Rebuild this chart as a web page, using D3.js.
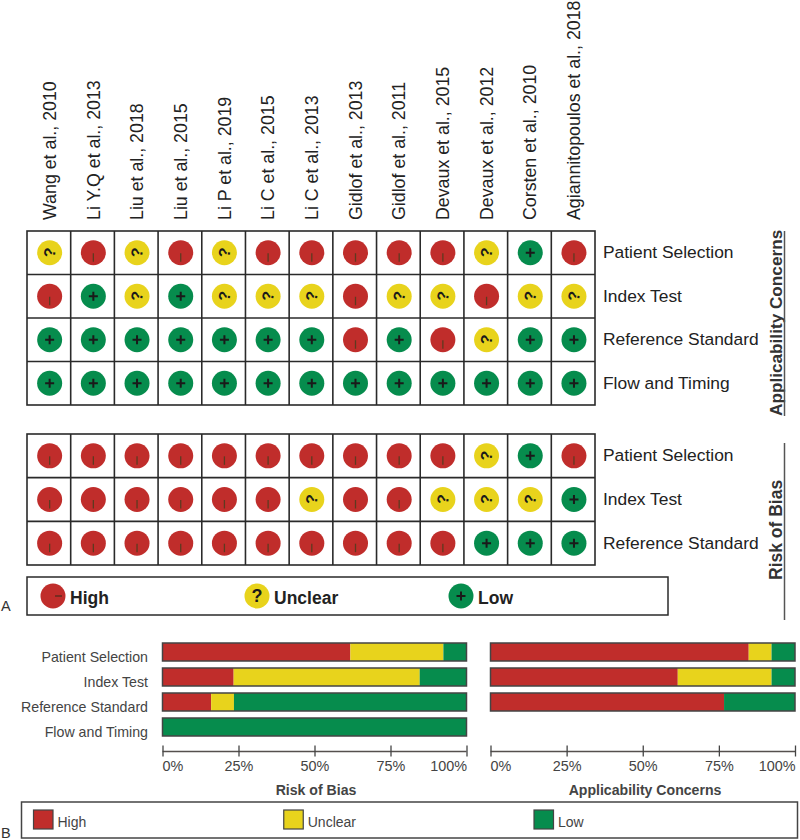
<!DOCTYPE html>
<html><head><meta charset="utf-8">
<script src="https://cdn.jsdelivr.net/npm/d3@7"></script>
<style>html,body{margin:0;padding:0;background:#fff}svg{display:block}text{font-family:"Liberation Sans",Arial,sans-serif}</style>
</head><body><svg id="c" width="800" height="840"></svg>
<script>
const studies = ["Wang et al., 2010","Li Y.Q et al., 2013","Liu et al., 2018","Liu et al., 2015","Li P et al., 2019","Li C et al., 2015","Li C et al., 2013","Gidlof et al., 2013","Gidlof et al., 2011","Devaux et al., 2015","Devaux et al., 2012","Corsten et al., 2010","Agiannitopoulos et al., 2018"];
const applicabilityRows = ["Patient Selection","Index Test","Reference Standard","Flow and Timing"];
const biasRows = ["Patient Selection","Index Test","Reference Standard"];
const applicabilityCells = ["?-?-?-----?+-","-+?+???-??-??","+++++++-+-?++","+++++++++++++"];
const biasCells = ["----------?+-","------?--???+","----------+++"];
const levels = ["High","Unclear","Low"];
const barRows = ["Patient Selection","Index Test","Reference Standard","Flow and Timing"];
const barBias = [[61.8,30.6,7.6],[23.4,61.2,15.4],[16,7.5,76.5],[0,0,100]];
const barApplicability = [[84.8,7.5,7.7],[61.5,30.8,7.7],[76.7,0,23.3]];
const percentTicks = [0,25,50,75,100];
const colors = {High:"#c02d2b",Unclear:"#e8d31c",Low:"#068c4d"};
const symbolLevel = {"-":"High","?":"Unclear","+":"Low"};

const svg = d3.select("#c");
const x = d3.scaleBand().domain(studies).range([27,595]);
const ink = "#2a2a2a";

function glyph(g, sym, big){
  if(sym==="+"){
    g.append("path").attr("d","M-4.5,0H4.5M0,-4.5V4.5").attr("stroke","#1a1a1a").attr("stroke-width",2).attr("fill","none");
  } else if(sym==="-"){
    if(big) g.append("path").attr("d","M2,0H9").attr("stroke","#4a2a1a").attr("stroke-width",1.2);
    else g.append("path").attr("d","M0,0.5V9").attr("stroke","#5e3a20").attr("stroke-width",1.3);
  } else {
    const t = g.append("text").text("?").attr("text-anchor","middle").attr("font-weight","700").attr("fill","#1a1a1a");
    if(big) t.attr("font-size",18).attr("y",6);
    else t.attr("font-size",16).attr("transform","rotate(-82) translate(0,5.5)");
  }
}

function matrix(rows, cells, top, bottom){
  const y = d3.scaleBand().domain(rows).range([top,bottom]);
  const g = svg.append("g");
  g.append("rect").attr("x",27).attr("y",top).attr("width",568).attr("height",bottom-top).attr("fill","#fff").attr("stroke",ink).attr("stroke-width",1.6);
  g.selectAll(".v").data(studies.slice(1)).join("line").attr("x1",d=>x(d)).attr("x2",d=>x(d)).attr("y1",top).attr("y2",bottom).attr("stroke",ink).attr("stroke-width",1.6);
  g.selectAll(".h").data(rows.slice(1)).join("line").attr("x1",27).attr("x2",595).attr("y1",d=>y(d)).attr("y2",d=>y(d)).attr("stroke",ink).attr("stroke-width",1.6);
  rows.forEach((r,i)=>{
    studies.forEach((s,j)=>{
      const sym = cells[i][j];
      const c = g.append("g").attr("transform",`translate(${x(s)+x.bandwidth()/2+0.8},${y(r)+y.bandwidth()/2})`);
      c.append("circle").attr("r",12.5).attr("fill",colors[symbolLevel[sym]]);
      glyph(c,sym,false);
    });
    g.append("text").attr("x",603).attr("y",y(r)+y.bandwidth()/2+5.5).attr("font-size",17.4).attr("fill","#222").text(r);
  });
}
matrix(applicabilityRows,applicabilityCells,231,405);
matrix(biasRows,biasCells,434,565);

svg.append("g").selectAll("text").data(studies).join("text")
  .attr("transform",d=>`translate(${x(d)+x.bandwidth()/2+7},220) rotate(-90)`)
  .attr("font-size",17.8).attr("fill","#222").text(d=>d);

// side titles
svg.append("text").attr("transform","translate(782,416) rotate(-90)").attr("font-size",17.2).attr("font-weight","700").attr("fill","#333").text("Applicability Concerns");
svg.append("line").attr("x1",784.5).attr("x2",784.5).attr("y1",231).attr("y2",416).attr("stroke","#555").attr("stroke-width",1.5);
svg.append("text").attr("transform","translate(782,580) rotate(-90)").attr("font-size",17.5).attr("font-weight","700").attr("fill","#333").text("Risk of Bias");
svg.append("line").attr("x1",784.5).attr("x2",784.5).attr("y1",443).attr("y2",620).attr("stroke","#555").attr("stroke-width",1.5);

// legend A
svg.append("rect").attr("x",27).attr("y",577).attr("width",641).attr("height",38).attr("fill","#fff").attr("stroke",ink).attr("stroke-width",1.5);
const legendAx = d3.scalePoint().domain(levels).range([53,461]);
const legendSym = {High:"-",Unclear:"?",Low:"+"};
levels.forEach(l=>{
  const c = svg.append("g").attr("transform",`translate(${legendAx(l)},596)`);
  c.append("circle").attr("r",12.5).attr("fill",colors[l]);
  glyph(c,legendSym[l],true);
  svg.append("text").attr("x",legendAx(l)+17).attr("y",604).attr("font-size",17.5).attr("font-weight","700").attr("fill","#222").text(l);
});
svg.append("text").attr("x",1).attr("y",611).attr("font-size",14.5).attr("fill","#333").text("A");
svg.append("text").attr("x",1).attr("y",838).attr("font-size",14.5).attr("fill","#333").text("B");

// stacked bars
const barY = d3.scaleBand().domain(barRows).range([643,736]).paddingInner(0.28).paddingOuter(0);
function stacked(data, rows, x0, x1, title){
  const s = d3.scaleLinear().domain([0,100]).range([x0,x1]);
  const g = svg.append("g");
  rows.forEach((r,i)=>{
    const tab = {}; levels.forEach((l,k)=>tab[l]=data[i][k]);
    const series = d3.stack().keys(levels)([tab]);
    series.forEach(sr=>{
      const a=sr[0][0], b=sr[0][1];
      if(b-a<=0) return;
      g.append("rect").attr("x",s(a)).attr("y",barY(r)).attr("width",s(b)-s(a)).attr("height",barY.bandwidth()).attr("fill",colors[sr.key]);
    });
    g.append("rect").attr("x",s(0)).attr("y",barY(r)).attr("width",s(100)-s(0)).attr("height",barY.bandwidth()).attr("fill","none").attr("stroke","#444").attr("stroke-width",1.5);
  });
  const ax = d3.axisBottom(s).tickValues(percentTicks).tickFormat(d=>d+"%").tickSizeOuter(0);
  const a = svg.append("g").attr("transform","translate(0,751)").call(ax);
  a.select(".domain").attr("d",`M${x0},0.5H${x1}`).attr("stroke","#55504e").attr("stroke-width",1.5);
  a.selectAll(".tick line").attr("y1",-5.5).attr("y2",5.5).attr("stroke","#444").attr("stroke-width",1.3);
  a.selectAll(".tick text").attr("font-size",14.4).attr("fill","#444").attr("font-family","Liberation Sans").attr("dy",0)
    .attr("text-anchor",d=>d===0?"start":d===100?"end":"middle").attr("y",20)
    .attr("dx",d=>d===0?-0.5:0);
  svg.append("text").attr("x",title.cx).attr("y",795).attr("text-anchor","middle").attr("font-size",14.1).attr("font-weight","700").attr("fill","#444").text(title.t);
}
stacked(barBias,barRows,162.5,466.5,{t:"Risk of Bias",cx:316});
stacked(barApplicability,barRows.slice(0,3),490.5,795,{t:"Applicability Concerns",cx:645});
svg.append("g").selectAll("text").data(barRows).join("text").attr("x",148).attr("y",d=>barY(d)+barY.bandwidth()/2+10).attr("text-anchor","end").attr("font-size",14.2).attr("fill","#444").text(d=>d);

// legend B
svg.append("rect").attr("x",21.5).attr("y",802).attr("width",776).attr("height",36).attr("fill","#fff").attr("stroke","#444").attr("stroke-width",1.5);
const legendBx = d3.scalePoint().domain(levels).range([33.5,534]);
levels.forEach(l=>{
  svg.append("rect").attr("x",legendBx(l)).attr("y",810).attr("width",19.5).attr("height",19).attr("fill",colors[l]).attr("stroke","#444").attr("stroke-width",1.2);
  svg.append("text").attr("x",legendBx(l)+24).attr("y",826.5).attr("font-size",14).attr("fill","#444").text(l);
});
</script></body></html>
